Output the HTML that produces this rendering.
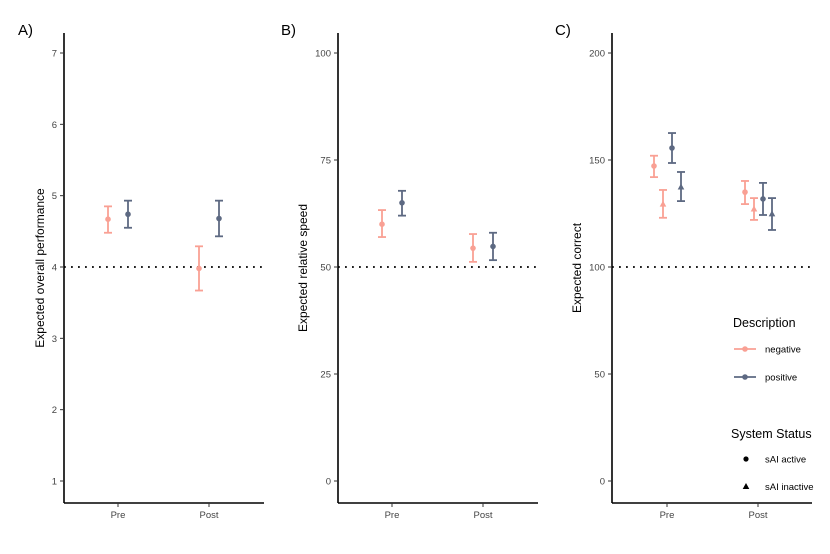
<!DOCTYPE html>
<html><head><meta charset="utf-8"><style>
html,body{margin:0;padding:0;background:#fff;}
svg{display:block;font-family:"Liberation Sans",Arial,sans-serif;}
</style></head><body>
<svg id="chart" width="830" height="554" viewBox="0 0 830 554"></svg>
<script>
const NEG='#F9A094', POS='#5D6982';
const categories=['Pre','Post'];
// Panel A
const aTicks=[1,2,3,4,5,6,7];
const aNegMean=[4.67,3.98], aNegLo=[4.48,3.67], aNegHi=[4.85,4.29];
const aPosMean=[4.74,4.68], aPosLo=[4.55,4.43], aPosHi=[4.93,4.93];
// Panel B
const bTicks=[0,25,50,75,100];
const bNegMean=[60,54.4], bNegLo=[57,51.2], bNegHi=[63.3,57.7];
const bPosMean=[65,54.8], bPosLo=[62,51.6], bPosHi=[67.8,58];
// Panel C
const cTicks=[0,50,100,150,200];
const cNegActMean=[147.2,135], cNegActLo=[142,129.4], cNegActHi=[152,140.2];
const cNegInMean=[129.4,127.1], cNegInLo=[123,122], cNegInHi=[136,132.2];
const cPosActMean=[155.6,131.8], cPosActLo=[148.6,124.3], cPosActHi=[162.6,139.3];
const cPosInMean=[137.4,124.8], cPosInLo=[130.8,117.3], cPosInHi=[144.4,132.2];

const svg=document.getElementById('chart');
const NS='http://www.w3.org/2000/svg';
function mk(tag,attrs,parent,text){const e=document.createElementNS(NS,tag);for(const k in attrs)e.setAttribute(k,attrs[k]);if(text!==undefined)e.textContent=text;(parent||svg).appendChild(e);return e;}

function panel(id,letter,lx,ax,ymin,ymax,ticks,title,refVal,catX,series,titleOff){
  const g=mk('g',{});
  
  
  const y=v=>481-(v-ymin)/(ymax-ymin)*428;
  const t=mk('text',{x:lx,y:35,'font-size':15,fill:'#000'},g,letter+')');
  
  
  const ya=mk('line',{x1:ax,y1:33,x2:ax,y2:503,stroke:'#000','stroke-width':1.6},g);
  
  
  const xa=mk('line',{x1:ax,y1:503,x2:ax+200,y2:503,stroke:'#000','stroke-width':1.6},g);
  
  
  ticks.forEach(v=>{
    mk('line',{x1:ax-4,y1:y(v),x2:ax,y2:y(v),stroke:'#333','stroke-width':1},g);
    const tl=mk('text',{x:ax-7,y:y(v)+3.5,'font-size':9.5,fill:'#444','text-anchor':'end'},g,String(v));
    
    
  });
  categories.forEach((c,i)=>{
    mk('line',{x1:catX[i],y1:503,x2:catX[i],y2:507,stroke:'#333','stroke-width':1},g);
    const tl=mk('text',{x:catX[i],y:518,'font-size':9.5,fill:'#444','text-anchor':'middle'},g,c);
    
    
  });
  const yt=mk('text',{x:0,y:0,'font-size':12,fill:'#000','text-anchor':'middle',transform:`translate(${ax-titleOff},${(33+503)/2}) rotate(-90)`},g,title);
  
  
  const rl=mk('line',{x1:ax,y1:y(refVal),x2:ax+200,y2:y(refVal),stroke:'#000','stroke-width':1.8,'stroke-dasharray':'1.8 5.2'},g);
  
  
  series.forEach(s=>{
    s.mean.forEach((m,i)=>{
      const x=catX[i]+s.dx;
      const eg=mk('g',{stroke:s.color,'stroke-width':1.8,fill:s.color},g);
      
      
      mk('line',{x1:x,y1:y(s.lo[i]),x2:x,y2:y(s.hi[i])},eg);
      mk('line',{x1:x-4,y1:y(s.lo[i]),x2:x+4,y2:y(s.lo[i])},eg);
      mk('line',{x1:x-4,y1:y(s.hi[i]),x2:x+4,y2:y(s.hi[i])},eg);
      if(s.shape==='tri'){const yy=y(m);mk('polygon',{points:`${x},${yy-3.5} ${x-3.3},${yy+2.5} ${x+3.3},${yy+2.5}`,stroke:'none'},eg);}
      else mk('circle',{cx:x,cy:y(m),r:2.8,stroke:'none'},eg);
    });
  });
}
panel('a','A',18,64,1,7,aTicks,'Expected overall performance',4,[118,209],[
 {name:'negative',color:NEG,dx:-10,mean:aNegMean,lo:aNegLo,hi:aNegHi},
 {name:'positive',color:POS,dx:10,mean:aPosMean,lo:aPosLo,hi:aPosHi}],20);
panel('b','B',281,338,0,100,bTicks,'Expected relative speed',50,[392,483],[
 {name:'negative',color:NEG,dx:-10,mean:bNegMean,lo:bNegLo,hi:bNegHi},
 {name:'positive',color:POS,dx:10,mean:bPosMean,lo:bPosLo,hi:bPosHi}],31);
panel('c','C',555,612,0,200,cTicks,'Expected correct',100,[667,758],[
 {name:'negative-active',color:NEG,dx:-13,mean:cNegActMean,lo:cNegActLo,hi:cNegActHi},
 {name:'negative-inactive',color:NEG,dx:-4,mean:cNegInMean,lo:cNegInLo,hi:cNegInHi,shape:'tri'},
 {name:'positive-active',color:POS,dx:5,mean:cPosActMean,lo:cPosActLo,hi:cPosActHi},
 {name:'positive-inactive',color:POS,dx:14,mean:cPosInMean,lo:cPosInLo,hi:cPosInHi,shape:'tri'}],31);

(function(){
const lg=mk('g',{});


mk('text',{x:733,y:327,'font-size':12.5,fill:'#000'},lg,'Description');
[['negative',NEG,349],['positive',POS,377]].forEach(([n,c,yy])=>{
  const e=mk('g',{},lg);
  
  
  mk('line',{x1:734,y1:yy,x2:756,y2:yy,stroke:c,'stroke-width':1.8},e);
  mk('circle',{cx:745,cy:yy,r:2.8,fill:c},e);
  mk('text',{x:765,y:yy+3.5,'font-size':9.5,fill:'#000'},e,n);
});
mk('text',{x:731,y:438,'font-size':12.5,fill:'#000'},lg,'System Status');
let e=mk('g',{},lg);


mk('circle',{cx:746,cy:459,r:2.6,fill:'#000'},e);
mk('text',{x:765,y:462.5,'font-size':9.5,fill:'#000'},e,'sAI active');
e=mk('g',{},lg);


mk('polygon',{points:'746,483 742.7,489 749.3,489',fill:'#000'},e);
mk('text',{x:765,y:490,'font-size':9.5,fill:'#000'},e,'sAI inactive');
})();
</script>
</body></html>
